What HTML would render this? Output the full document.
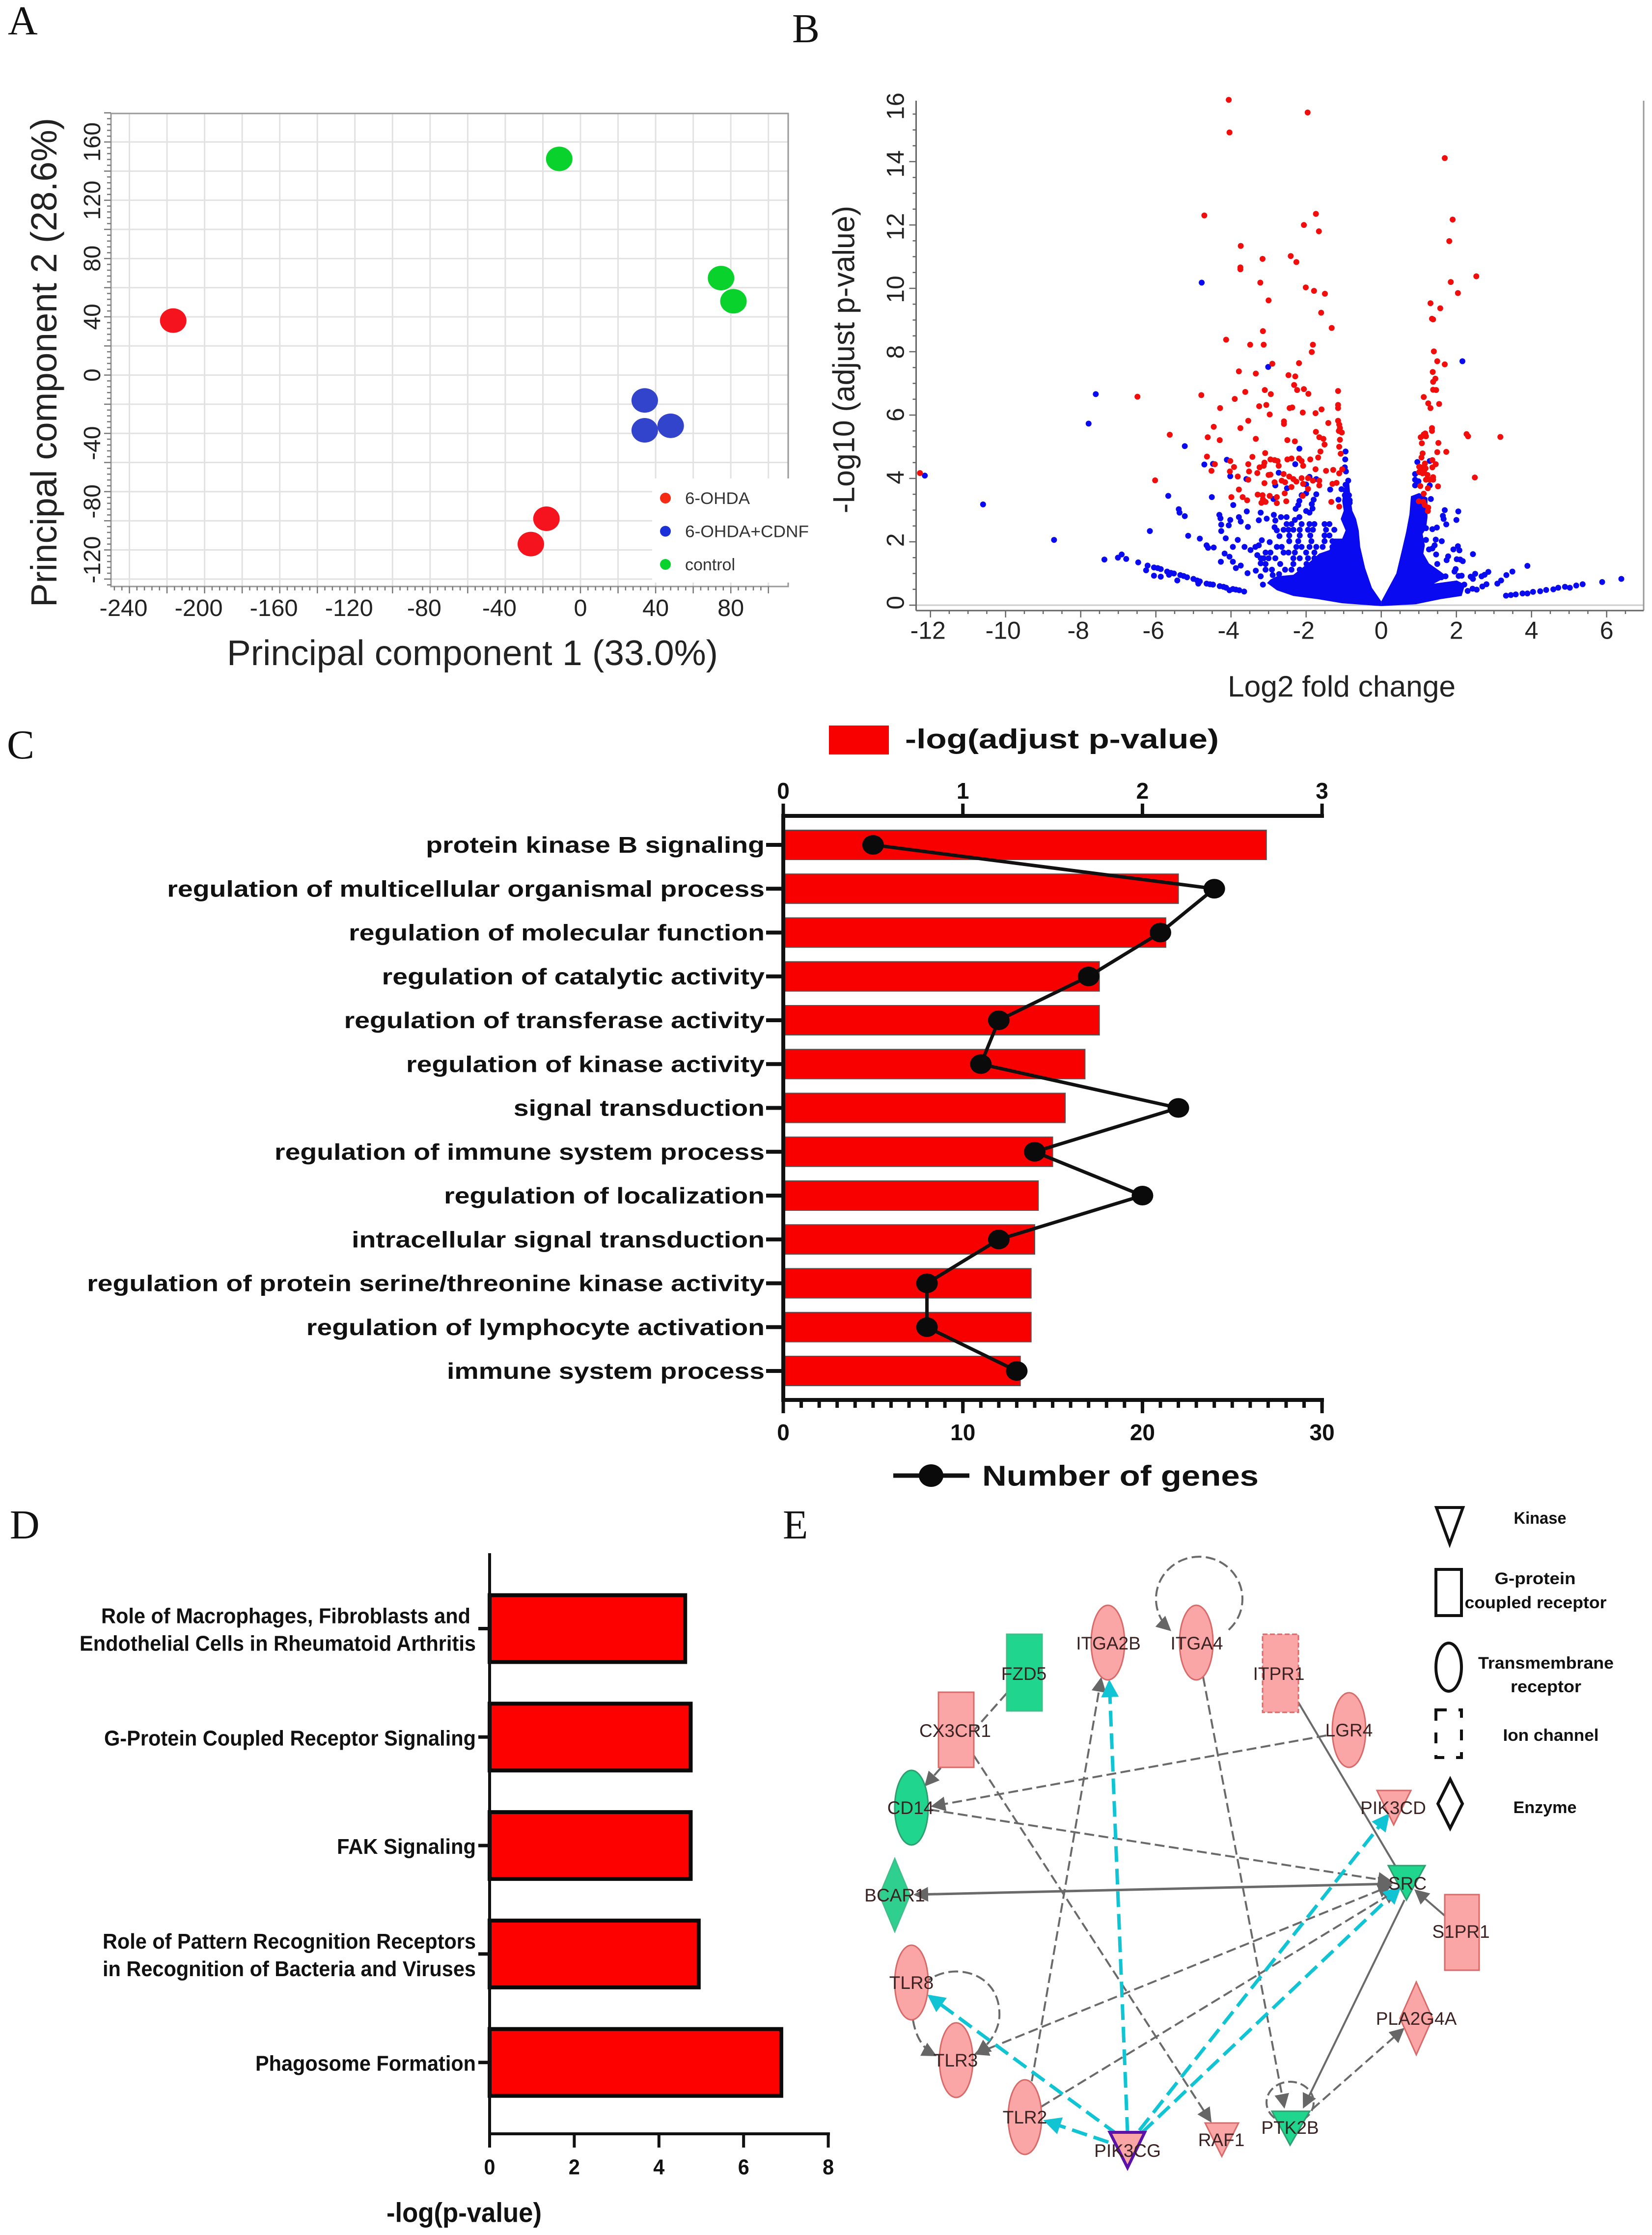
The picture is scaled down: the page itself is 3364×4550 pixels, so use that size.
<!DOCTYPE html>
<html lang="en">
<head>
<meta charset="utf-8">
<title>Multi-panel transcriptomics figure</title>
<style>
html,body{margin:0;padding:0;background:#fff;}
svg{display:block;font-family:"Liberation Sans",sans-serif;}
.panel-letter{font-family:"Liberation Serif",serif;font-size:84px;fill:#111;}
.node-label{font-size:37px;fill:#3a2222;text-anchor:middle;}
.legend-label{font-size:34px;font-weight:bold;fill:#111;text-anchor:middle;}
</style>
</head>
<body>
<svg id="figure" xmlns="http://www.w3.org/2000/svg" width="3364" height="4550" viewBox="0 0 3364 4550">
<defs>
<marker id="arrow-gray" markerUnits="userSpaceOnUse" markerWidth="34" markerHeight="34" refX="26" refY="15" orient="auto-start-reverse"><path d="M0 0L30 15L0 30Z" fill="#666"/></marker>
<marker id="arrow-cyan" markerUnits="userSpaceOnUse" markerWidth="40" markerHeight="40" refX="30" refY="18" orient="auto-start-reverse"><path d="M0 0L36 18L0 36Z" fill="#10c4d4"/></marker>
</defs>
<rect x="0" y="0" width="3364" height="4550" fill="#fff"/>
<text class="panel-letter" x="16" y="70">A</text>
<text class="panel-letter" x="1613" y="86">B</text>
<text class="panel-letter" x="14" y="1544">C</text>
<text class="panel-letter" x="20" y="3132">D</text>
<text class="panel-letter" x="1594" y="3132">E</text>
<g id="panel-a"></g>
<g id="panel-b"></g>
<g id="panel-c"></g>
<g id="panel-d"></g>
<g id="panel-e">
  <g fill="none" stroke="#6a6a6a" stroke-width="4">
    <line x1="2050" y1="3447" x2="1885" y2="3634" stroke-dasharray="20 9" marker-end="url(#arrow-gray)"/>
    <line x1="1983" y1="3574" x2="2465" y2="4318" stroke-dasharray="20 9" marker-end="url(#arrow-gray)"/>
    <line x1="2450" y1="3414" x2="2615" y2="4289" stroke-dasharray="20 9" marker-end="url(#arrow-gray)"/>
    <line x1="2101" y1="4237" x2="2242" y2="3418" stroke-dasharray="20 9" marker-end="url(#arrow-gray)"/>
    <line x1="2701" y1="3533" x2="1899" y2="3677" stroke-dasharray="20 9" marker-end="url(#arrow-gray)"/>
    <line x1="1893" y1="3684" x2="2832" y2="3830" stroke-dasharray="20 9" marker-end="url(#arrow-gray)"/>
    <line x1="2644" y1="3466" x2="2860" y2="3830"/>
    <line x1="1864" y1="3857" x2="2832" y2="3835" stroke-width="5" marker-start="url(#arrow-gray)" marker-end="url(#arrow-gray)"/>
    <line x1="2942" y1="3900" x2="2883" y2="3849" marker-end="url(#arrow-gray)"/>
    <line x1="2860" y1="3868" x2="2655" y2="4289" marker-end="url(#arrow-gray)"/>
    <line x1="1987" y1="4181" x2="2832" y2="3839" stroke-dasharray="20 9" marker-start="url(#arrow-gray)" marker-end="url(#arrow-gray)"/>
    <line x1="2120" y1="4289" x2="2843" y2="3849" stroke-dasharray="20 9" marker-end="url(#arrow-gray)"/>
    <line x1="2672" y1="4294" x2="2857" y2="4131" stroke-dasharray="20 9" marker-end="url(#arrow-gray)"/>
    <path d="M2502 3318 A88 86 0 1 0 2382 3318" stroke-dasharray="20 9" marker-end="url(#arrow-gray)"/>
    <path d="M1880 4040 C1930 3990 2040 4010 2035 4107 C2032 4140 2010 4165 1990 4180" stroke-dasharray="20 9" marker-end="url(#arrow-gray)"/>
    <path d="M1859 4112 Q1868 4165 1904 4184" stroke-dasharray="20 9" marker-end="url(#arrow-gray)"/>
    <ellipse cx="2627" cy="4280" rx="48" ry="42" stroke-dasharray="18 8"/>
  </g>
  <g fill="none" stroke="#10c4d4" stroke-width="7" stroke-dasharray="32 14">
    <line x1="2296" y1="4342" x2="2259" y2="3425" marker-end="url(#arrow-cyan)"/>
    <line x1="2275" y1="4345" x2="1893" y2="4064" marker-end="url(#arrow-cyan)"/>
    <line x1="2257" y1="4361" x2="2130" y2="4318" marker-end="url(#arrow-cyan)"/>
    <line x1="2320" y1="4337" x2="2826" y2="3696" marker-end="url(#arrow-cyan)"/>
    <line x1="2325" y1="4342" x2="2849" y2="3844" marker-end="url(#arrow-cyan)"/>
  </g>
  <g stroke-width="3">
    <ellipse cx="2256" cy="3344" rx="34" ry="76" fill="#fba6a6" stroke="#d86a6a"/>
    <ellipse cx="2436" cy="3344" rx="34" ry="76" fill="#fba6a6" stroke="#d86a6a"/>
    <rect x="2050" y="3327" width="72" height="156" fill="#20d68f" stroke="#3fbf8a"/>
    <rect x="1911" y="3445" width="72" height="153" fill="#fba6a6" stroke="#d86a6a"/>
    <rect x="2571" y="3327" width="73" height="159" fill="#fba6a6" stroke="#d86a6a" stroke-dasharray="10 5"/>
    <ellipse cx="2747" cy="3522" rx="34" ry="76" fill="#fba6a6" stroke="#d86a6a"/>
    <ellipse cx="1856" cy="3680" rx="34" ry="76" fill="#20d68f" stroke="#2f9f70"/>
    <polygon points="1822,3784 1853,3858 1822,3932 1791,3858" fill="#2fd08f" stroke="#3fbf8a"/>
    <polygon points="2804,3645 2873,3645 2838,3715" fill="#fba6a6" stroke="#d86a6a"/>
    <polygon points="2827,3798 2902,3798 2864,3868" fill="#20d68f" stroke="#2f9f70"/>
    <rect x="2942" y="3857" width="70" height="154" fill="#fba6a6" stroke="#d86a6a"/>
    <polygon points="2884,4035 2917,4109 2884,4183 2851,4109" fill="#fba6a6" stroke="#d86a6a"/>
    <ellipse cx="1856" cy="4036" rx="34" ry="76" fill="#fba6a6" stroke="#d86a6a"/>
    <ellipse cx="1947" cy="4194" rx="34" ry="76" fill="#fba6a6" stroke="#d86a6a"/>
    <ellipse cx="2087" cy="4310" rx="34" ry="76" fill="#fba6a6" stroke="#d86a6a"/>
    <polygon points="2260,4341 2331,4341 2296,4413" fill="#fba6a6" stroke="#5a12a8" stroke-width="6"/>
    <polygon points="2454,4322 2522,4322 2488,4390" fill="#fba6a6" stroke="#d86a6a"/>
    <polygon points="2590,4298 2667,4298 2627,4367" fill="#20d68f" stroke="#2f9f70"/>
  </g>
  <g>
    <text class="node-label" x="2257" y="3358">ITGA2B</text>
    <text class="node-label" x="2437" y="3358">ITGA4</text>
    <text class="node-label" x="2085" y="3420">FZD5</text>
    <text class="node-label" x="1945" y="3536">CX3CR1</text>
    <text class="node-label" x="2604" y="3420">ITPR1</text>
    <text class="node-label" x="2747" y="3535">LGR4</text>
    <text class="node-label" x="1854" y="3693">CD14</text>
    <text class="node-label" x="1822" y="3871">BCAR1</text>
    <text class="node-label" x="2837" y="3693">PIK3CD</text>
    <text class="node-label" x="2866" y="3847">SRC</text>
    <text class="node-label" x="2975" y="3945">S1PR1</text>
    <text class="node-label" x="2884" y="4122">PLA2G4A</text>
    <text class="node-label" x="1856" y="4049">TLR8</text>
    <text class="node-label" x="1946" y="4207">TLR3</text>
    <text class="node-label" x="2087" y="4323">TLR2</text>
    <text class="node-label" x="2296" y="4391">PIK3CG</text>
    <text class="node-label" x="2487" y="4369">RAF1</text>
    <text class="node-label" x="2627" y="4344">PTK2B</text>
  </g>
  <g>
    <polygon points="2925,3069 2979,3069 2952,3143" fill="none" stroke="#111" stroke-width="6"/>
    <text class="legend-label" x="3136" y="3102" textLength="107" lengthAdjust="spacingAndGlyphs">Kinase</text>
    <rect x="2924" y="3195" width="52" height="94" fill="none" stroke="#111" stroke-width="6"/>
    <text class="legend-label" x="3126" y="3225" textLength="165" lengthAdjust="spacingAndGlyphs">G-protein</text>
    <text class="legend-label" x="3127" y="3274" textLength="289" lengthAdjust="spacingAndGlyphs">coupled receptor</text>
    <ellipse cx="2950" cy="3394" rx="26" ry="49" fill="none" stroke="#111" stroke-width="6"/>
    <text class="legend-label" x="3148" y="3397" textLength="276" lengthAdjust="spacingAndGlyphs">Transmembrane</text>
    <text class="legend-label" x="3148" y="3445" textLength="144" lengthAdjust="spacingAndGlyphs">receptor</text>
    <rect x="2924" y="3481" width="52" height="97" fill="none" stroke="#111" stroke-width="6" stroke-dasharray="22 24"/>
    <text class="legend-label" x="3158" y="3544" textLength="195" lengthAdjust="spacingAndGlyphs">Ion channel</text>
    <polygon points="2953,3622 2978,3672 2953,3722 2928,3672" fill="none" stroke="#111" stroke-width="6"/>
    <text class="legend-label" x="3146" y="3691" textLength="129" lengthAdjust="spacingAndGlyphs">Enzyme</text>
  </g>
</g>
</svg>
<script>
// ---------- Panel A data ----------
var pcaGroups = ['6-OHDA', '6-OHDA+CDNF', 'control'];
var pcaColors = ['#f5141e', '#3344cc', '#0ad22d'];
var pca1Ohda = [[-216.7, 37.4], [-18.1, -98.6], [-26.4, -116]];
var pca1Cdnf = [[34.2, -17.4], [34.2, -37.9], [48, -34.8]];
var pca1Control = [[-11.3, 148.4], [74.8, 66.6], [81.4, 50.7]];
var pcaXTicks = [-240, -200, -160, -120, -80, -40, 0, 40, 80];
var pcaYTicks = [160, 120, 80, 40, 0, -40, -80, -120];

// ---------- Panel B data: x = log2 fold change, y = -log10 adjusted p ----------
var volcanoXTicks = [-12, -10, -8, -6, -4, -2, 0, 2, 4, 6];
var volcanoYTicks = [0, 2, 4, 6, 8, 10, 12, 14, 16];
var volcanoDenseLeft = [[0,.12],[-.25,.55],[-.43,1.17],[-.56,1.84],[-.6,2.36],[-.67,2.72],[-.77,2.98],[-.82,3.39],[-.86,3.96],[-.99,3.7],[-1.04,3.29],[-1,2.98],[-1.08,2.72],[-.95,2.36],[-1.04,2.1],[-1.25,2.1],[-1.38,1.74],[-1.65,1.63],[-1.9,1.37],[-2.34,.96],[-2.78,.91],[-2.95,.81],[-3.04,.7],[-2.78,.47],[-2.34,.29],[-1.69,.19],[-1.04,.06],[0,-.03]];
var volcanoDenseRight = [[0,.12],[.4,1],[.55,1.74],[.66,2.3],[.75,2.87],[.79,3.44],[1.01,3.54],[1.23,3.39],[1.23,2.77],[1.19,2.41],[1.1,2.25],[1.16,1.89],[1.12,1.63],[1.27,1.32],[1.58,1.06],[1.75,.9],[1.4,.68],[2.01,.78],[2.23,.65],[2.14,.29],[1.58,.19],[.92,.03],[0,-.03]];
var volcanoBlue = [
[-4.78,10.18],[-3.01,7.52],[2.16,7.7],[-7.6,6.66],[-7.79,5.73],[-12.15,4.09],[-10.6,3.18],[-8.71,2.06],[-7.37,1.44],[-7.01,1.5],[-6.91,1.6],[-6.79,1.46],
[-5.23,5.02],[-4.11,4.59],[-4.71,4.44],[-4.48,4.46],[-4.02,4.07],[-2.18,4.94],[-2.29,4.45],[-2.73,4.18],[-1.91,4.05],[-1.73,3.98],[-2.82,3.78],[-3.59,3.98],[-2.51,3.69],[-2,3.81],[-2,3.53],[-1.73,3.5],[-2.12,3.47],[-1.36,3.65],[-2.87,3.35],[-5.67,3.45],[-4.51,3.41],[-3.94,3.16],[-2.18,3.29],[-2.21,3.16],[-2.28,3.04],
[-1.8,3.33],[-1.85,3.19],[-1.83,3.05],[-2,2.97],[-1.91,2.92],[-1.14,3.33],[-.95,4.85],[-.96,4.6],[-.97,4.35],[-.94,4.22],[-.88,3.93],[-.95,3.8],[-1.06,3.66],[-.95,3.62],[-.86,3.47],[-.97,3.47],[-.84,3.31],[-.95,3.26],[-.84,3.23],
[-5.39,3.03],[-5.37,2.92],[-5.23,2.81],[-3.58,2.96],[-4.31,2.85],[-4.28,2.74],[-4.26,2.54],[-4.26,2.34],[-3.79,2.78],[-3.74,2.64],[-4.02,2.69],[-4.06,2.52],[-3.55,2.47],[-3.21,2.92],[-3.26,2.68],[-3.05,2.73],[-2.86,2.85],[-2.67,2.78],[-2.52,2.78],[-2.18,2.78],[-2.3,2.69],[-2.82,2.67],[-2.84,2.46],[-2.78,2.36],[-2.71,2.18],
[-6.16,2.34],[-5.14,2.19],[-4.83,2.1],[-4.65,1.89],[-4.61,1.81],[-4.46,1.82],[-4.14,2.11],[-3.82,2.06],[-3.95,1.84],[-3.64,1.84],[-2.97,1.99],[-3.18,2.05],[-3.26,1.89],[-3.35,1.84],[-3.48,1.74],[-3.3,1.58],[-3.21,1.48],[-3.21,1.32],
[-4.17,1.63],[-4.04,1.53],[-3.95,1.37],[-3.87,1.17],[-3.74,1.25],[-3.56,1.01],[-3.34,1.09],[-3.21,.91],[-3.15,.65],[-4.27,1.37],[-6.47,1.35],
[-6.26,1.1],[-6.22,1.25],[-6.05,1.19],[-5.87,1.14],[-5.7,1.06],[-5.52,1],[-5.35,.95],[-5.17,.88],[-5,.83],[-4.83,.75],[-4.65,.68],[-4.48,.65],[-4.3,.6],[-4.13,.55],[-3.95,.51],[-3.78,.47],[-3.65,.43],[-6.05,.93],[-5.87,.9],[-5.65,.96],[-5.43,.78],[-4.87,.68],[-4.04,.47],[-5.95,1.17],[-5.6,1.02],[-5.26,.92],[-4.9,.78],[-4.56,.66],[-4.2,.58],[-3.87,.49],
[-2.52,2.56],[-2.39,2.56],[-2.12,2.56],[-1.91,2.56],[-1.78,2.56],[-1.51,2.56],[-1.38,2.56],[-2.6,2.38],[-2.47,2.38],[-2.34,2.38],[-2.17,2.38],[-1.95,2.38],[-1.82,2.38],[-1.47,2.38],[-1.25,2.38],[-2.45,2.2],[-2.17,2.2],[-1.89,2.2],[-1.51,2.2],[-1.38,2.2],[-2.45,2.02],[-2.21,2.02],[-1.86,2.02],[-1.51,2.02],[-1.3,2.02],
[-2.78,1.84],[-2.65,1.84],[-2.26,1.84],[-2.12,1.84],[-1.91,1.84],[-1.73,1.84],[-1.56,1.84],[-1.3,1.84],[-3.08,1.66],[-2.95,1.66],[-2.6,1.66],[-2.47,1.66],[-2.3,1.66],[-2,1.66],[-1.78,1.66],[-3.13,1.48],[-3,1.48],[-2.82,1.48],[-2.34,1.48],[-2.17,1.48],[-1.95,1.48],[-1.78,1.48],[-3.08,1.3],[-2.69,1.3],[-2.34,1.3],[-1.99,1.3],[-3.08,1.12],[-2.91,1.12],[-2.56,1.12],[-2.39,1.12],[-2.17,1.12],[-1.91,1.12],[-2.89,.95],[-2.72,.98],
[1.69,3],[2.05,2.96],[1.64,2.82],[1.66,2.72],[2,2.69],[1.73,2.55],[1.36,2.4],[1.48,2.45],[1.19,2.43],[1.32,3.35],[1.45,2.07],[1.61,2.02],[1.19,2.06],[1.42,1.89],[1.36,1.79],[1.27,1.76],[1.46,1.6],[2.04,1.86],[1.92,1.76],[2.08,1.73],[2.44,1.61],[1.78,1.54],[1.74,1.42],[2.01,1.45],[2.1,1.44],[2.17,1.39],[1.49,1.3],[1.98,1.14],[1.95,1.06],
[3.89,1.24],[3.49,1.06],[3.33,.95],[2.85,1.05],[2.5,.99],[2.38,.9],[2.44,.83],[2.67,.91],[2.75,.96],[2.14,.93],[2.06,.92],[1.71,.91],[1.6,.88],[3.19,.78],[3.09,.68],[2.8,.66],[2.69,.59],[2.54,.49],[2.43,.52],[2.3,.45],[2.21,.65],
[3.32,.3],[3.45,.32],[3.58,.34],[3.76,.37],[3.89,.37],[4.04,.42],[4.23,.44],[4.39,.48],[4.58,.5],[4.71,.55],[4.89,.58],[5.02,.55],[5.19,.62],[5.36,.66],[5.88,.73],[6.39,.83],
[.96,4.52],[1.29,4.55],[.9,4.14],[.9,3.96],[.9,3.78],[1.29,3.78],[.99,3.91]
];
var volcanoRed = [
[-4.06,15.95],[-4.04,14.92],[-1.96,15.55],[1.69,14.11],[-4.71,12.3],[-1.74,12.35],[-2.06,12],[-1.66,11.8],[1.9,12.17],[1.81,11.49],[-3.74,11.34],[-3.16,10.93],[-2.41,11.02],[-2.26,10.83],[-3.75,10.66],[-3.75,10.6],[-3.22,10.18],[2.53,10.38],[1.85,10.2],[-2.01,10.03],[-1.79,9.92],[-1.5,9.83],[2.04,9.85],[-3,9.62],[1.31,9.53],[1.57,9.37],[-1.6,9.23],[1.35,9.04],[1.38,9.02],[-1.32,8.75],[-3.15,8.65],[-4.13,8.38],[-3.49,8.22],[-3.13,8.22],[-1.82,8.22],[-1.85,7.99],[1.4,8.01],[-2.9,7.62],[-2.19,7.64],[1.49,7.7],[1.69,7.6],[-3.79,7.38],[-3.34,7.31],[-2.47,7.26],[-2.29,7.22],[1.37,7.36],[1.44,7.15],[1.38,7.05],[-2.32,6.95],[-2.24,6.79],[-2.06,6.82],[-1.94,6.67],[-3.1,6.79],[-2.94,6.66],[-3.62,6.73],[-4.79,6.63],[-6.49,6.58],[-3.9,6.51],[-1.15,6.76],[1.38,6.8],[1.46,6.79],[1.13,6.57],[1.25,6.37],[1.54,6.35],[1.31,6.22],[-3.25,6.28],[-3.06,6.32],[-4.29,6.22],[-2.44,6.22],[-2.37,6.24],[-1.15,6.32],[-1.15,6.22],[-1.59,6.18],[-2.97,6.02],[-2.09,6.08],[-1.75,6.06],[-3.54,5.82],[-2.59,5.8],[-2.59,5.72],[-1.41,5.75],[-1.15,5.82],[-1.12,5.7],[-1.1,5.59],[-1.13,5.5],[-1.05,5.45],[-4.46,5.63],[-3.75,5.59],[1.35,5.59],[1.35,5.5],[-5.63,5.38],[-1.74,5.47],[1.13,5.39],[1.17,5.42],
[-4.62,5.3],[-4.3,5.21],[-3.34,5.25],[-2.5,5.21],[-2.3,5.17],[-1.65,5.3],[-1.54,5.25],[-1.51,5.07],[-1.1,5.22],[-1.12,5],[-1.08,4.78],[-3.09,4.8],[-4.64,4.69],[-3.43,4.68],[-1.62,4.85],[-1.68,4.66],[-2.95,4.6],[-2.84,4.58],[-2.76,4.55],[-2.5,4.6],[-2.39,4.63],[-2.19,4.63],[-2.12,4.55],[-1.89,4.6],[-4.02,4.55],[-3.11,4.5],[-4.43,4.45],[-3.54,4.45],[-3.13,4.4],[-3.24,4.35],[-2.73,4.4],[-2.08,4.4],[-3.92,4.36],[-1.75,4.29],[-1.47,4.24],[-1.28,4.27],[-1.04,4.29],[-1.12,4.16],[-4.52,4.24],[-4.03,4.22],[-3.52,4.22],[-3.3,4.17],[-3,4.11],[-2.95,4.12],[-2.6,4.14],[-3.82,4.06],[-2.45,4.06],[-2.34,3.98],[-2.26,3.9],[-2.12,4.01],[-1.95,4.01],[-1.82,3.93],[-1.65,3.93],[-6.02,3.94],[-3.54,3.96],[-2.65,3.93],[-2.56,3.88],[-2.84,3.88],[-3.11,3.85],[-2.08,3.83],[-1.65,3.78],[-1.3,3.83],[-1.19,3.86],[-2.39,3.73],[-1.95,3.67],[-3.79,3.65],[-2.57,3.53],[-3.29,3.49],[-3.16,3.47],[-2.97,3.45],[-2.09,3.45],[-3.99,3.41],[-3.69,3.41],[-3.57,3.31],[-2.78,3.41],[-3.15,3.34],[-3.19,3.23],[-3.08,3.26],[-2.78,3.22],[-2.53,3.28],[-1.33,3.26],[-1.12,3.11],[-12.28,4.17],
[1.12,5.35],[1.05,5.3],[1.19,5.33],[1.08,5.11],[1.52,5.12],[1.49,4.83],[1.73,4.84],[1.1,4.79],[1.07,4.66],[1.36,4.58],[1.45,4.45],[1.36,4.35],[1.16,4.47],[1.01,4.37],[1.18,4.32],[1.1,4.29],[1.01,4.2],[1.1,4.16],[1.23,4.11],[1.38,4.04],[1.38,3.96],[1.19,3.96],[1.29,3.96],[2.49,4.03],[1.04,3.76],[1.51,3.75],[1.24,3.69],[1.13,3.52],[1,3.28],[1.12,3.26],[1.16,3.16],[1.25,3.08],[1.24,2.97],[2.27,5.4],[2.31,5.33],[3.17,5.31],[1.05,4.35],[1.14,4.24]
];

// ---------- Panel C data ----------
var goTerms = ['protein kinase B signaling','regulation of multicellular organismal process','regulation of molecular function','regulation of catalytic activity','regulation of transferase activity','regulation of kinase activity','signal transduction','regulation of immune system process','regulation of localization','intracellular signal transduction','regulation of protein serine/threonine kinase activity','regulation of lymphocyte activation','immune system process'];
var goPValues = [2.69, 2.2, 2.13, 1.76, 1.76, 1.68, 1.57, 1.5, 1.42, 1.4, 1.38, 1.38, 1.32];
var goGeneCounts = [5, 24, 21, 17, 12, 11, 22, 14, 20, 12, 8, 8, 13];
var goTopTicks = [0, 1, 2, 3];
var goBottomTicks = [0, 10, 20, 30];

// ---------- Panel D data ----------
var pathwayLines = [['Role of Macrophages, Fibroblasts and','Endothelial Cells in Rheumatoid Arthritis'],['G-Protein Coupled Receptor Signaling'],['FAK Signaling'],['Role of Pattern Recognition Receptors','in Recognition of Bacteria and Viruses'],['Phagosome Formation']];
var pathwayValues = [4.62, 4.75, 4.75, 4.94, 6.89];
var pathwayTicks = [0, 2, 4, 6, 8];

// Text fitting for the pathway labels (layout only, keyed by label text).
var pathwayLabelFit = {
  'Role of Macrophages, Fibroblasts and': {right: 958, width: 752},
  'Endothelial Cells in Rheumatoid Arthritis': {right: 969, width: 807},
  'G-Protein Coupled Receptor Signaling': {right: 969, width: 757},
  'FAK Signaling': {right: 969, width: 283},
  'Role of Pattern Recognition Receptors': {right: 969, width: 760},
  'in Recognition of Bacteria and Viruses': {right: 969, width: 760},
  'Phagosome Formation': {right: 969, width: 449}
};

// ---------- Helpers ----------
var NS = 'http://www.w3.org/2000/svg';
function mk(tag, parent, attrs) {
  var e = document.createElementNS(NS, tag);
  for (var k in attrs) e.setAttribute(k, attrs[k]);
  parent.appendChild(e);
  return e;
}
function txt(parent, s, x, cy, size, o) {
  o = o || {};
  var a = {x: x, y: cy + size * 0.35, 'font-size': size, 'text-anchor': o.anchor || 'middle', fill: o.fill || '#111'};
  if (o.bold) a['font-weight'] = 'bold';
  if (o.len) { a.textLength = o.len; a.lengthAdjust = 'spacingAndGlyphs'; }
  if (o.rot) a.transform = 'rotate(-90 ' + x + ' ' + cy + ')';
  var e = mk('text', parent, a);
  e.textContent = s;
  return e;
}
function polyPoints(arr, fx, fy) {
  return arr.map(function (p) { return fx(p[0]) + ',' + fy(p[1]); }).join(' ');
}
var i, v, e;

// ---------- Panel A ----------
var A = document.getElementById('panel-a');
function pcaX(d) { return 1182 + d * 3.827; }
function pcaY(d) { return 763.6 - d * 2.966; }
var aL = 226, aT = 231, aR = 1605, aB = 1194;
for (v = -240; v <= 100; v += 20) {
  e = mk('line', A, {x1: pcaX(v), x2: pcaX(v), y1: aT, y2: aB, stroke: '#e2e2e2', 'stroke-width': 3});
  
  
}
for (v = -140; v <= 160; v += 20) {
  e = mk('line', A, {x1: aL, x2: aR, y1: pcaY(v), y2: pcaY(v), stroke: '#e2e2e2', 'stroke-width': 3});
  
  
}
e = mk('rect', A, {x: aL, y: aT, width: aR - aL, height: aB - aT, fill: 'none', stroke: '#999', 'stroke-width': 3});


for (v = -248; v <= 100; v += 4) {
  var mx = (v % 20 === 0);
  e = mk('line', A, {x1: pcaX(v), x2: pcaX(v), y1: aB, y2: aB + (mx ? 14 : 8), stroke: '#777', 'stroke-width': 2.5});
  
  
}
for (v = -144; v <= 180; v += 4) {
  var my = (v % 20 === 0);
  e = mk('line', A, {x1: aL - (my ? 14 : 8), x2: aL, y1: pcaY(v), y2: pcaY(v), stroke: '#777', 'stroke-width': 2.5});
  
  
}
pcaXTicks.forEach(function (t) {
  var el = txt(A, String(t), pcaX(t) - (t < 0 ? 12 : 0), 1237, 48, {fill: '#222', len: String(t).length === 4 ? 98 : (String(t).length === 3 ? (t < 0 ? 70 : 56) : (String(t).length === 2 ? 54 : 27))});
  
  
});
pcaYTicks.forEach(function (t) {
  var el = txt(A, String(t), 187, pcaY(t) + (t < 0 ? 20 : 0), 48, {fill: '#222', rot: true});
  
  
});
e = txt(A, 'Principal component 1 (33.0%)', 962, 1329, 72, {fill: '#222', len: 1000});


e = txt(A, 'Principal component 2 (28.6%)', 89, 738, 74, {fill: '#222', rot: true, len: 996});


[pca1Ohda, pca1Cdnf, pca1Control].forEach(function (grp, g) {
  grp.forEach(function (p) {
    var c = mk('ellipse', A, {cx: pcaX(p[0]), cy: pcaY(p[1]), rx: 27, ry: 25, fill: pcaColors[g]});
    
    
  });
});
e = mk('rect', A, {x: 1328, y: 974, width: 324, height: 212, fill: '#fff'});


var legLens = [132, 252, 102];
pcaGroups.forEach(function (name, g) {
  var ly = 1014 + g * 67.5;
  var d = mk('circle', A, {cx: 1355, cy: ly, r: 11, fill: pcaColors[g] === '#3344cc' ? '#1a30d8' : (g === 0 ? '#f52a14' : '#0ad22d')});
  
  
  var t = txt(A, name, 1395, ly, 34, {anchor: 'start', fill: '#333', len: legLens[g]});
  
  
});

// ---------- Panel B ----------
var B = document.getElementById('panel-b');
function volX(d) { return 2812.7 + d * 76.5; }
function volY(d) { return 1232 - d * 64.5; }
var bL = 1865.5, bT = 205, bR = 3347, bB = 1243;
e = mk('line', B, {x1: bL, x2: bR, y1: volY(0), y2: volY(0), stroke: '#ccc', 'stroke-width': 3});


e = mk('line', B, {x1: bR, x2: bR, y1: bT, y2: bB, stroke: '#999', 'stroke-width': 3});


e = mk('line', B, {x1: bL, x2: bL, y1: bT, y2: bB, stroke: '#666', 'stroke-width': 3});


e = mk('line', B, {x1: bL, x2: bR, y1: bB, y2: bB, stroke: '#666', 'stroke-width': 3});


for (v = -12; v <= 6.5; v += 0.5) {
  e = mk('line', B, {x1: volX(v), x2: volX(v), y1: bB, y2: bB + (v % 2 === 0 ? 14 : 7), stroke: '#666', 'stroke-width': 2.5});
  
  
}
for (v = 0; v <= 15.5; v += 0.5) {
  e = mk('line', B, {x1: bL - (v % 2 === 0 ? 14 : 7), x2: bL, y1: volY(v), y2: volY(v), stroke: '#666', 'stroke-width': 2.5});
  
  
}
volcanoXTicks.forEach(function (t) {
  var el = txt(B, String(t), volX(t) - (t < 0 ? 5 : 0), 1283, 50, {fill: '#222'});
  
  
});
volcanoYTicks.forEach(function (t) {
  var el = txt(B, String(t), 1823, volY(t) - 5 + t * 0.7 + (t === 16 ? 10 : 0), 50, {fill: '#222', rot: true});
  
  
});
e = txt(B, 'Log2 fold change', 2732, 1397, 60, {fill: '#222', len: 464});


e = txt(B, '-Log10 (adjust p-value)', 1718, 732, 62, {fill: '#222', rot: true, len: 626});


e = mk('polygon', B, {points: polyPoints(volcanoDenseLeft, volX, volY), fill: '#0a0af0'});


e = mk('polygon', B, {points: polyPoints(volcanoDenseRight, volX, volY), fill: '#0a0af0'});


volcanoBlue.forEach(function (p) {
  var c = mk('circle', B, {cx: volX(p[0]), cy: volY(p[1]), r: 6, fill: '#0a0af0'});
  
  
});
volcanoRed.forEach(function (p) {
  var c = mk('circle', B, {cx: volX(p[0]), cy: volY(p[1]), r: 6, fill: '#f20d0d'});
  
  
});

// ---------- Panel C ----------
var C = document.getElementById('panel-c');
function goPX(d) { return 1595 + d * 365.7; }
function goGX(d) { return 1595 + d * 36.57; }
function goRowY(i) { return 1720 + i * 89.25; }
e = mk('rect', C, {x: 1688, y: 1477, width: 122, height: 59, fill: '#f80000'});


e = txt(C, '-log(adjust p-value)', 1843, 1504, 56, {anchor: 'start', bold: true, len: 639});


goPValues.forEach(function (val, idx) {
  var y = goRowY(idx);
  var r = mk('rect', C, {x: goPX(0), y: y - 30, width: goPX(val) - goPX(0), height: 60, fill: '#f80000', stroke: '#555', 'stroke-width': 2});
  
  
  var tk = mk('line', C, {x1: 1560, x2: 1595, y1: y, y2: y, stroke: '#111', 'stroke-width': 8});
  
  
  var lb = txt(C, goTerms[idx], 1557, y, 46, {anchor: 'end', bold: true});
  lb.setAttribute('textLength', (lb.getComputedTextLength() * 1.205).toFixed(1));
  lb.setAttribute('lengthAdjust', 'spacingAndGlyphs');
  
  
});
e = mk('line', C, {x1: 1595, x2: 1595, y1: 1657, y2: 2854, stroke: '#111', 'stroke-width': 8});


e = mk('line', C, {x1: 1591, x2: 2696, y1: 1661, y2: 1661, stroke: '#111', 'stroke-width': 8});


e = mk('line', C, {x1: 1591, x2: 2696, y1: 2850, y2: 2850, stroke: '#111', 'stroke-width': 8});


goTopTicks.forEach(function (t) {
  var k = mk('line', C, {x1: goPX(t), x2: goPX(t), y1: 1661, y2: 1636, stroke: '#111', 'stroke-width': 7});
  
  
  var l = txt(C, String(t), goPX(t), 1610, 46, {bold: true});
  
  
});
for (v = 0; v <= 30; v++) {
  e = mk('line', C, {x1: goGX(v), x2: goGX(v), y1: 2850, y2: 2866, stroke: '#111', 'stroke-width': 7});
  
  
}
goBottomTicks.forEach(function (t) {
  var k = mk('line', C, {x1: goGX(t), x2: goGX(t), y1: 2850, y2: 2877, stroke: '#111', 'stroke-width': 7});
  
  
  var l = txt(C, String(t), goGX(t), 2916, 46, {bold: true});
  
  
});
e = mk('polyline', C, {points: goGeneCounts.map(function (g, idx) { return goGX(g) + ',' + goRowY(idx); }).join(' '), fill: 'none', stroke: '#111', 'stroke-width': 7});


goGeneCounts.forEach(function (g, idx) {
  var c = mk('ellipse', C, {cx: goGX(g), cy: goRowY(idx), rx: 22, ry: 20, fill: '#0a0a0a'});
  
  
});
e = mk('line', C, {x1: 1819, x2: 1974, y1: 3004, y2: 3004, stroke: '#111', 'stroke-width': 9});


e = mk('ellipse', C, {cx: 1896, cy: 3004, rx: 25, ry: 23, fill: '#0a0a0a'});


e = txt(C, 'Number of genes', 2000, 3004, 58, {anchor: 'start', bold: true, len: 563});



// ---------- Panel D ----------
var D = document.getElementById('panel-d');
function pathX(d) { return 997 + d * 86.2; }
function pathRowY(i) { return 3315.5 + i * 220.8; }
pathwayValues.forEach(function (val, idx) {
  var y = pathRowY(idx);
  var r = mk('rect', D, {x: pathX(0), y: y - 68, width: pathX(val) - pathX(0), height: 136, fill: '#fd0000', stroke: '#0a0a0a', 'stroke-width': 8});
  
  
  var tk = mk('line', D, {x1: 974, x2: 997, y1: y, y2: y, stroke: '#111', 'stroke-width': 7});
  
  
  var lines = pathwayLines[idx];
  lines.forEach(function (s, li) {
    var ly = lines.length === 2 ? y - 26 + li * 56 : y + 2;
    var fit = pathwayLabelFit[s];
    var t = mk('text', D, {x: fit.right, y: ly + 15, 'font-size': 44, 'font-weight': 'bold', 'text-anchor': 'end', fill: '#111', textLength: fit.width, lengthAdjust: 'spacingAndGlyphs'});
    t.textContent = s;
    
    
  });
});
e = mk('line', D, {x1: 997, x2: 997, y1: 3162, y2: 4347, stroke: '#111', 'stroke-width': 6});


e = mk('line', D, {x1: 994, x2: 1690, y1: 4344, y2: 4344, stroke: '#111', 'stroke-width': 6});


pathwayTicks.forEach(function (t) {
  var k = mk('line', D, {x1: pathX(t), x2: pathX(t), y1: 4344, y2: 4372, stroke: '#111', 'stroke-width': 6});
  
  
  var l = txt(D, String(t), pathX(t), 4411, 44, {bold: true, len: 23});
  
  
});
e = txt(D, '-log(p-value)', 945, 4504, 56, {bold: true, len: 316});


</script>
</body>
</html>
